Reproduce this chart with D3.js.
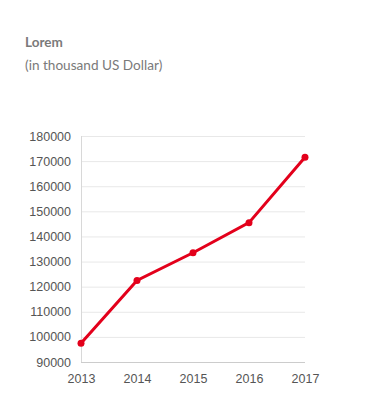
<!DOCTYPE html>
<html>
<head>
<meta charset="utf-8">
<script src="https://cdn.jsdelivr.net/npm/d3@7"></script>
<style>
  body { margin: 0; background: #fff; }
</style>
</head>
<body>
<div id="chart"></div>
<script>
  // data
  var years = ["2013", "2014", "2015", "2016", "2017"];
  var values = [97500, 122500, 133500, 145500, 171500];
  var yTicks = [90000, 100000, 110000, 120000, 130000, 140000, 150000, 160000, 170000, 180000];

  var margin = {top: 136, right: 87, bottom: 49, left: 81},
      width = 392 - margin.left - margin.right,
      height = 411 - margin.top - margin.bottom;

  var root = d3.select("#chart")
      .append("svg")
      .attr("width", 392)
      .attr("height", 411);

  // title
  root.append("text")
      .attr("x", 25)
      .attr("y", 47)
      .style("font-family", "Lato")
      .style("font-weight", "bold")
      .style("font-size", "13.5px")
      .style("fill", "#7a7a7a")
      .text("Lorem");
  root.append("text")
      .attr("x", 25)
      .attr("y", 70)
      .style("font-family", "Lato")
      .style("font-size", "13.6px")
      .style("fill", "#7a7a7a")
      .text("(in thousand US Dollar)");

  var svg = root.append("g")
      .attr("transform", "translate(" + margin.left + "," + margin.top + ")");

  var x = d3.scalePoint()
    .domain(years)
    .range([0, width]);

  var y = d3.scaleLinear()
    .domain([90000, 180000])
    .range([height, 0]);

  // gridlines
  svg.append("g")
    .selectAll("line")
    .data(yTicks)
    .enter()
    .append("line")
      .attr("x1", 0)
      .attr("x2", width)
      .attr("y1", function(d) { return y(d) + 0.5; })
      .attr("y2", function(d) { return y(d) + 0.5; })
      .style("stroke", function(d) { return d === 90000 ? "#cccccc" : "#e8e8e8"; })
      .style("stroke-width", 1);

  // y axis
  var yAxis = svg.append("g")
    .style("font-family", "Liberation Sans, Arial, sans-serif")
    .style("font-size", "12.5px")
    .call(d3.axisLeft(y).tickValues(yTicks).tickSize(0).tickPadding(10).tickFormat(d3.format("d")));
  yAxis.select(".domain").remove();
  yAxis.selectAll("text").style("fill", "#555");

  svg.append("line")
    .attr("x1", 0.5).attr("x2", 0.5)
    .attr("y1", 0).attr("y2", height)
    .style("stroke", "#d8d8d8");

  // x axis
  var xAxis = svg.append("g")
    .attr("transform", "translate(0," + height + ")")
    .style("font-family", "Liberation Sans, Arial, sans-serif")
    .style("font-size", "12.5px")
    .call(d3.axisBottom(x).tickSize(0).tickPadding(12));
  xAxis.select(".domain").remove();
  xAxis.selectAll("text").style("fill", "#555");

  // line
  var line = d3.line()
    .x(function(d, i) { return x(years[i]); })
    .y(function(d) { return y(d); });

  svg.append("path")
    .datum(values)
    .attr("d", line)
    .style("fill", "none")
    .style("stroke", "#e3001b")
    .style("stroke-width", 3);

  svg.selectAll("circle")
    .data(values)
    .enter()
    .append("circle")
      .attr("cx", function(d, i) { return x(years[i]); })
      .attr("cy", function(d) { return y(d); })
      .attr("r", 3.5)
      .style("fill", "#e3001b");
</script>
</body>
</html>
